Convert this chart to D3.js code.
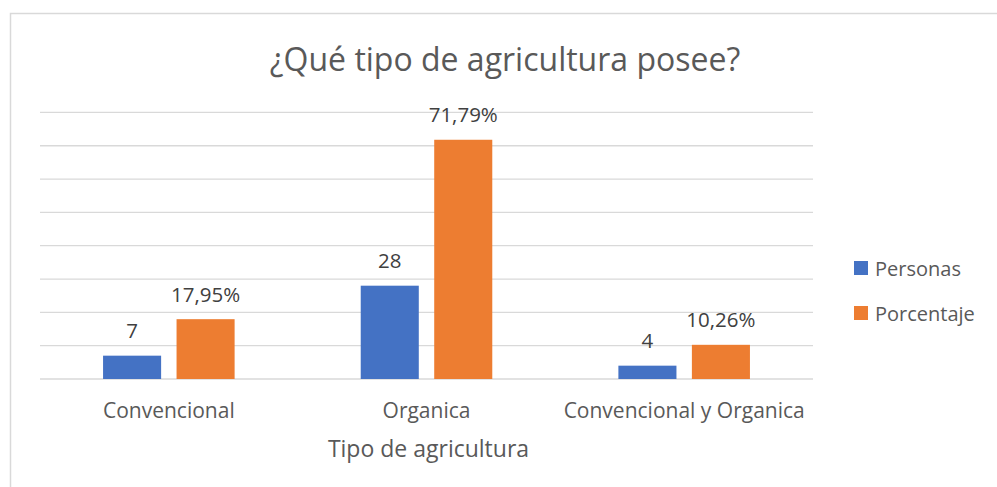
<!DOCTYPE html>
<html>
<head>
<meta charset="utf-8">
<script src="https://cdn.jsdelivr.net/npm/d3@7"></script>
<style>
  html, body { margin: 0; padding: 0; background: #fff; }
  svg { display: block; font-family: "Open Sans", "Noto Sans", sans-serif; }
</style>
</head>
<body>
<svg id="chart" width="997" height="487"></svg>
<script>
// Chart data
const categories = ["Convencional", "Organica", "Convencional y Organica"];
const seriesNames = ["Personas", "Porcentaje"];
const personas = [7, 28, 4];
const porcentaje = [17.95, 71.79, 10.26];
const seriesLabels = [
  ["7", "28", "4"],
  ["17,95%", "71,79%", "10,26%"]
];
const yTicks = [0, 10, 20, 30, 40, 50, 60, 70, 80];
const title = "¿Qué tipo de agricultura posee?";
const xAxisTitle = "Tipo de agricultura";
const colors = ["#4472C4", "#ED7D31"];

const seriesValues = [personas, porcentaje];

const svg = d3.select("#chart");

// chart area frame
svg.append("rect")
  .attr("x", 10.5).attr("y", 13.5)
  .attr("width", 1000).attr("height", 500)
  .attr("fill", "#fff")
  .attr("stroke", "#d9d9d9")
  .attr("stroke-width", 1.5);

const plot = { left: 40, right: 813, top: 112.4, bottom: 379 };

const x0 = d3.scaleBand()
  .domain(categories)
  .range([plot.left, plot.right]);

const x1 = d3.scaleBand()
  .domain(seriesNames)
  .range([0, x0.bandwidth()])
  .paddingInner(0.21)
  .paddingOuter(0.858);

const y = d3.scaleLinear()
  .domain([0, 80])
  .range([plot.bottom, plot.top]);

// horizontal gridlines
svg.append("g")
  .selectAll("line")
  .data(yTicks)
  .join("line")
  .attr("x1", plot.left).attr("x2", plot.right)
  .attr("y1", d => y(d)).attr("y2", d => y(d))
  .attr("stroke", "#d9d9d9")
  .attr("stroke-width", 1.3);

// title
svg.append("text")
  .attr("x", 505).attr("y", 71)
  .attr("text-anchor", "middle")
  .attr("font-size", 32)
  .attr("fill", "#595959")
  .text(title);

// bars
const groups = svg.append("g")
  .selectAll("g")
  .data(categories)
  .join("g")
  .attr("transform", d => `translate(${x0(d)},0)`);

const cells = (d, i) => seriesNames.map((s, j) => ({ s, j, v: seriesValues[j][i], label: seriesLabels[j][i] }));

groups.selectAll("rect")
  .data(cells)
  .join("rect")
  .attr("x", d => x1(d.s))
  .attr("width", x1.bandwidth())
  .attr("y", d => y(d.v))
  .attr("height", d => y(0) - y(d.v))
  .attr("fill", d => colors[d.j]);

// value labels
groups.selectAll("text")
  .data(cells)
  .join("text")
  .attr("x", d => x1(d.s) + x1.bandwidth() / 2)
  .attr("y", d => y(d.v) - 17.5)
  .attr("text-anchor", "middle")
  .attr("font-size", 20.5)
  .attr("fill", "#404040")
  .text(d => d.label);

// category axis labels
const xAxis = d3.axisBottom(x0).tickSize(0).tickPadding(0);
const xg = svg.append("g")
  .attr("transform", `translate(0,${plot.bottom})`)
  .call(xAxis);
xg.select(".domain").remove();
xg.selectAll("text")
  .attr("dy", null)
  .attr("y", 39)
  .attr("font-family", "Open Sans, Noto Sans, sans-serif")
  .attr("font-size", 21)
  .attr("fill", "#595959");

// axis title
svg.append("text")
  .attr("x", (plot.left + plot.right) / 2 + 2)
  .attr("y", 457)
  .attr("text-anchor", "middle")
  .attr("font-size", 23)
  .attr("fill", "#595959")
  .text(xAxisTitle);

// legend
const legend = svg.append("g")
  .selectAll("g")
  .data(seriesNames)
  .join("g")
  .attr("transform", (d, i) => `translate(854,${261 + i * 45})`);
legend.append("rect")
  .attr("width", 14).attr("height", 14)
  .attr("fill", (d, i) => colors[i]);
legend.append("text")
  .attr("x", 21).attr("y", 15)
  .attr("font-size", 20)
  .attr("fill", "#595959")
  .text(d => d);
</script>
</body>
</html>
